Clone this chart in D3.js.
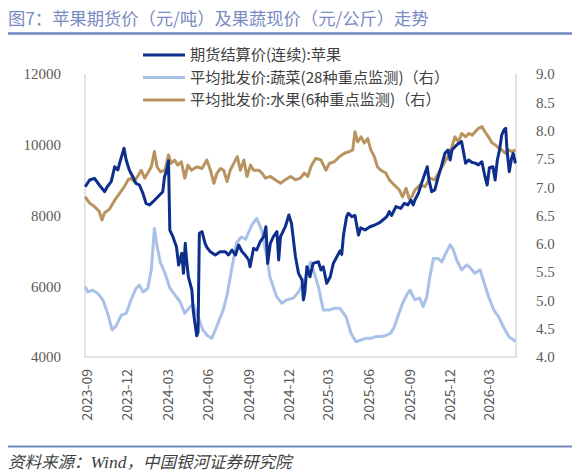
<!DOCTYPE html>
<html><head><meta charset="utf-8">
<script src="https://cdn.jsdelivr.net/npm/d3@7/dist/d3.min.js"></script>
<style>
html,body{margin:0;padding:0;background:#fff;}
svg{display:block;}
</style></head>
<body>
<svg id="chart" width="580" height="476"></svg>
<script>
const titleText = "图7：苹果期货价（元/吨）及果蔬现价（元/公斤）走势";
const seriesNames = ["期货结算价(连续):苹果", "平均批发价:蔬菜(28种重点监测)（右）", "平均批发价:水果(6种重点监测)（右）"];
const leftTicks = [4000, 6000, 8000, 10000, 12000];
const rightTicks = [4.0, 4.5, 5.0, 5.5, 6.0, 6.5, 7.0, 7.5, 8.0, 8.5, 9.0];
const xTickLabels = ["2023-09","2023-12","2024-03","2024-06","2024-09","2024-12","2025-03","2025-06","2025-09","2025-12","2026-03"];
const dateRange = ["2023-08-28", "2026-04-30"];

// 期货结算价(连续):苹果 (元/吨, left axis)
const appleFutures = [
["2023-08-28",8814],["2023-09-07",9003],["2023-09-18",9050],["2023-09-29",8862],["2023-10-11",8673],["2023-10-17",8814],
["2023-10-26",8956],["2023-11-03",9380],["2023-11-10",9286],["2023-11-14",9475],["2023-11-24",9900],["2023-11-29",9569],
["2023-12-06",9286],["2023-12-14",9097],["2023-12-21",8910],["2023-12-29",8862],["2024-01-06",8627],["2024-01-13",8344],
["2024-01-21",8297],["2024-01-29",8390],["2024-02-09",8532],["2024-02-20",8673],["2024-02-24",9097],["2024-02-29",9286],
["2024-03-04",9550],["2024-03-07",7590],["2024-03-14",7400],["2024-03-22",7117],["2024-03-27",6600],["2024-04-03",6931],
["2024-04-07",6365],["2024-04-11",7214],["2024-04-14",6742],["2024-04-18",6270],["2024-04-26",5894],["2024-04-29",5328],
["2024-05-03",4952],["2024-05-07",4600],["2024-05-10",4700],["2024-05-13",7497],["2024-05-19",7543],["2024-05-26",7214],
["2024-05-30",7100],["2024-06-07",6976],["2024-06-18",6883],["2024-06-29",6976],["2024-07-11",6976],["2024-07-18",6883],
["2024-07-26",7025],["2024-08-03",6883],["2024-08-10",7166],["2024-08-18",6976],["2024-08-25",6883],["2024-09-02",6742],
["2024-09-05",6553],["2024-09-13",7072],["2024-09-20",7025],["2024-09-28",7259],["2024-10-06",7400],["2024-10-11",7683],
["2024-10-15",6646],["2024-10-21",7214],["2024-10-28",7400],["2024-11-05",7543],["2024-11-09",6742],["2024-11-13",7400],
["2024-11-24",7683],["2024-12-02",8014],["2024-12-08",7778],["2024-12-17",6834],["2024-12-24",6365],["2025-01-01",6176],
["2025-01-04",5611],["2025-01-07",5800],["2025-01-12",6552],["2025-01-19",6270],["2025-01-26",6646],["2025-02-07",6694],
["2025-02-13",6460],["2025-02-18",6552],["2025-02-26",6083],["2025-03-06",6270],["2025-03-13",6650],["2025-03-21",6834],
["2025-03-28",7000],["2025-04-01",6900],["2025-04-05",7449],["2025-04-12",7966],["2025-04-16",8062],["2025-04-24",7966],
["2025-05-01",8000],["2025-05-09",7449],["2025-05-14",7650],["2025-05-24",7590],["2025-06-04",7683],["2025-06-15",7731],
["2025-06-26",7800],["2025-07-06",7900],["2025-07-12",7966],["2025-07-18",8108],["2025-07-23",8000],["2025-08-02",8250],
["2025-08-13",8200],["2025-08-21",8344],["2025-08-29",8300],["2025-09-05",8438],["2025-09-10",8300],["2025-09-14",8438],
["2025-09-22",8627],["2025-09-29",8910],["2025-10-07",9193],["2025-10-12",9380],["2025-10-16",9003],["2025-10-22",8673],
["2025-10-29",8720],["2025-11-06",9097],["2025-11-13",9380],["2025-11-21",9758],["2025-11-28",9852],["2025-12-03",9569],
["2025-12-07",9852],["2025-12-14",9946],["2025-12-22",10040],["2025-12-29",10087],["2026-01-07",9475],["2026-01-14",9569],
["2026-01-22",9500],["2026-01-29",9480],["2026-02-05",9430],["2026-02-13",9520],["2026-02-20",9097],["2026-02-25",8862],
["2026-03-02",9350],["2026-03-10",9380],["2026-03-15",9003],["2026-03-20",9569],["2026-03-25",9852],["2026-03-30",10275],
["2026-04-04",10417],["2026-04-08",10465],["2026-04-11",9852],["2026-04-16",9239],["2026-04-21",9600],["2026-04-25",9758],
["2026-04-30",9475]
];

// 平均批发价:蔬菜 (元/公斤, right axis)
const vegPrice = [
["2023-08-28",5.24],["2023-09-03",5.15],["2023-09-14",5.18],["2023-09-26",5.12],["2023-10-07",5.01],["2023-10-18",4.77],
["2023-10-28",4.48],["2023-11-06",4.55],["2023-11-18",4.74],["2023-11-29",4.77],["2023-12-10",5.01],["2023-12-21",5.21],
["2023-12-29",5.27],["2024-01-06",5.15],["2024-01-17",5.21],["2024-01-25",5.54],["2024-02-01",6.27],["2024-02-06",6.01],
["2024-02-14",5.68],["2024-02-25",5.48],["2024-03-07",5.22],["2024-03-18",5.10],["2024-03-30",4.98],["2024-04-10",4.77],
["2024-04-22",4.89],["2024-04-29",4.92],["2024-05-10",4.71],["2024-05-21",4.48],["2024-05-31",4.38],["2024-06-10",4.33],
["2024-06-21",4.53],["2024-07-06",4.83],["2024-07-15",5.10],["2024-07-25",5.54],["2024-08-05",6.01],["2024-08-16",6.12],
["2024-08-26",6.08],["2024-09-09",6.33],["2024-09-20",6.45],["2024-10-01",6.25],["2024-10-13",5.77],["2024-10-20",5.42],
["2024-11-04",5.07],["2024-11-16",4.95],["2024-11-27",5.01],["2024-12-12",5.04],["2024-12-24",5.15],["2024-12-30",5.24],
["2025-01-10",5.42],["2025-01-20",5.68],["2025-01-29",5.48],["2025-02-09",5.18],["2025-02-18",4.83],["2025-03-04",4.83],
["2025-03-15",4.86],["2025-03-28",4.86],["2025-04-11",4.71],["2025-04-22",4.42],["2025-05-03",4.27],["2025-05-15",4.30],
["2025-05-25",4.33],["2025-06-06",4.33],["2025-06-17",4.36],["2025-06-29",4.36],["2025-07-10",4.38],["2025-07-21",4.42],
["2025-07-29",4.53],["2025-08-06",4.71],["2025-08-17",4.95],["2025-08-28",5.12],["2025-09-03",5.18],["2025-09-14",5.01],
["2025-09-25",5.04],["2025-10-03",4.89],["2025-10-11",5.07],["2025-10-18",5.42],["2025-10-26",5.74],["2025-11-06",5.74],
["2025-11-14",5.68],["2025-11-21",5.80],["2025-12-03",5.98],["2025-12-10",5.90],["2025-12-18",5.71],["2025-12-29",5.54],
["2026-01-10",5.63],["2026-01-17",5.58],["2026-01-28",5.48],["2026-02-09",5.54],["2026-02-16",5.36],["2026-02-28",5.07],
["2026-03-12",4.83],["2026-03-23",4.71],["2026-04-03",4.53],["2026-04-15",4.36],["2026-04-26",4.30],["2026-04-30",4.27]
];

// 平均批发价:水果 (元/公斤, right axis)
const fruitPrice = [
["2023-08-28",6.83],["2023-09-07",6.72],["2023-09-18",6.66],["2023-09-29",6.57],["2023-10-05",6.42],["2023-10-11",6.55],
["2023-10-22",6.61],["2023-11-03",6.77],["2023-11-14",6.89],["2023-11-25",7.01],["2023-12-03",7.13],["2023-12-10",7.16],
["2023-12-17",7.10],["2023-12-25",7.19],["2024-01-02",7.30],["2024-01-10",7.16],["2024-01-17",7.25],["2024-01-25",7.36],
["2024-02-01",7.63],["2024-02-07",7.36],["2024-02-15",7.27],["2024-02-25",7.30],["2024-03-04",7.57],["2024-03-10",7.42],
["2024-03-18",7.48],["2024-03-25",7.39],["2024-04-02",7.45],["2024-04-10",7.16],["2024-04-17",7.39],["2024-04-25",7.30],
["2024-05-01",7.33],["2024-05-08",7.36],["2024-05-19",7.33],["2024-05-30",7.48],["2024-06-07",7.30],["2024-06-15",7.07],
["2024-06-22",7.25],["2024-06-30",7.33],["2024-07-07",7.30],["2024-07-15",7.10],["2024-07-22",7.30],["2024-07-30",7.42],
["2024-08-07",7.54],["2024-08-14",7.30],["2024-08-22",7.48],["2024-08-29",7.19],["2024-09-06",7.39],["2024-09-13",7.30],
["2024-09-25",7.30],["2024-10-02",7.25],["2024-10-10",7.16],["2024-10-21",7.19],["2024-11-01",7.13],["2024-11-13",7.07],
["2024-11-24",7.13],["2024-12-06",7.19],["2024-12-17",7.13],["2024-12-28",7.16],["2025-01-06",7.25],["2025-01-14",7.19],
["2025-01-21",7.36],["2025-02-01",7.51],["2025-02-13",7.48],["2025-02-24",7.30],["2025-03-04",7.42],["2025-03-15",7.45],
["2025-03-27",7.54],["2025-04-07",7.60],["2025-04-18",7.63],["2025-04-26",7.66],["2025-05-01",7.98],["2025-05-07",7.80],
["2025-05-15",7.89],["2025-05-22",7.78],["2025-05-30",7.86],["2025-06-06",7.66],["2025-06-14",7.54],["2025-06-21",7.36],
["2025-06-29",7.30],["2025-07-10",7.25],["2025-07-18",7.13],["2025-07-29",7.04],["2025-08-10",6.95],["2025-08-17",6.83],
["2025-08-25",6.98],["2025-09-01",6.80],["2025-09-07",6.83],["2025-09-14",6.95],["2025-09-26",7.04],["2025-10-07",7.01],
["2025-10-18",7.16],["2025-10-29",7.13],["2025-11-10",7.30],["2025-11-21",7.45],["2025-11-28",7.54],["2025-12-07",7.72],
["2025-12-14",7.89],["2025-12-22",7.80],["2025-12-29",7.95],["2026-01-07",7.89],["2026-01-14",7.95],["2026-01-22",7.92],
["2026-01-29",7.98],["2026-02-05",8.04],["2026-02-13",8.07],["2026-02-20",7.98],["2026-02-28",7.89],["2026-03-08",7.78],
["2026-03-15",7.75],["2026-03-23",7.69],["2026-03-30",7.66],["2026-04-07",7.60],["2026-04-14",7.66],["2026-04-22",7.63],
["2026-04-30",7.66]
];

const colors = ["#0d2f8b", "#a9c1e8", "#b99461"];
const parse = d3.timeParse("%Y-%m-%d");
const svg = d3.select("#chart");

const plot = {left: 85, right: 516, top: 74, bottom: 357};

const x = d3.scaleTime().domain(dateRange.map(parse)).range([85.2, 515.4]);
const yL = d3.scaleLinear().domain([4000, 12000]).range([plot.bottom, plot.top]);
const yR = d3.scaleLinear().domain([4, 9]).range([plot.bottom, plot.top]);

// title
svg.append("text").attr("x", 8).attr("y", 25)
  .attr("font-family", "'Noto Sans CJK SC', sans-serif").attr("font-size", 17.3)
  .attr("fill", "#7a8bc3").text(titleText);
svg.append("line").attr("x1", 8).attr("x2", 572).attr("y1", 33.5).attr("y2", 33.5)
  .attr("stroke", "#6f86be").attr("stroke-width", 2.5);

// plot frame (left, right, bottom)
const frame = svg.append("g").attr("stroke", "#d9d9d9").attr("stroke-width", 1.5).attr("fill", "none");
frame.append("path").attr("d", `M${plot.left},${plot.top}V${plot.bottom}H${plot.right}V${plot.top}`);

// axes
const tickFont = "'Liberation Serif', 'Times New Roman', serif";
const gL = svg.append("g").attr("transform", `translate(${plot.left - 21},0)`)
  .call(d3.axisLeft(yL).tickValues(leftTicks).tickSize(0).tickFormat(d3.format("d")));
gL.select(".domain").remove();
gL.selectAll("text").attr("font-family", tickFont).attr("font-size", 15).attr("fill", "#5e5a55").attr("dx", 0);

const gR = svg.append("g").attr("transform", `translate(${plot.right + 17},0)`)
  .call(d3.axisRight(yR).tickValues(rightTicks).tickSize(0).tickFormat(d3.format(".1f")));
gR.select(".domain").remove();
gR.selectAll("text").attr("font-family", tickFont).attr("font-size", 15).attr("fill", "#5e5a55").attr("dx", 0);

const xTicks = xTickLabels.map(s => parse(s + "-01"));
const gX = svg.append("g").attr("transform", `translate(0,${plot.bottom})`)
  .call(d3.axisBottom(x).tickValues(xTicks).tickSize(0).tickFormat(d3.timeFormat("%Y-%m")));
gX.select(".domain").remove();
gX.selectAll("text")
  .attr("font-family", "'Noto Sans CJK SC', 'Noto Sans', sans-serif").attr("font-size", 14)
  .attr("fill", "#5e5a55")
  .attr("transform", "rotate(-90)")
  .attr("text-anchor", "end")
  .attr("x", -12).attr("y", 0).attr("dy", "0.35em");

// lines
const lineL = d3.line().x(d => x(parse(d[0]))).y(d => yL(d[1]));
const lineR = d3.line().x(d => x(parse(d[0]))).y(d => yR(d[1]));

svg.append("path").datum(vegPrice).attr("d", lineR).attr("fill", "none")
  .attr("stroke", colors[1]).attr("stroke-width", 3).attr("stroke-linejoin", "round");
svg.append("path").datum(fruitPrice).attr("d", lineR).attr("fill", "none")
  .attr("stroke", colors[2]).attr("stroke-width", 3).attr("stroke-linejoin", "round");
svg.append("path").datum(appleFutures).attr("d", lineL).attr("fill", "none")
  .attr("stroke", colors[0]).attr("stroke-width", 3).attr("stroke-linejoin", "round");

// legend
const legend = svg.append("g");
seriesNames.forEach((name, i) => {
  const yy = 55 + i * 22.5;
  legend.append("line").attr("x1", 143).attr("x2", 185).attr("y1", yy).attr("y2", yy)
    .attr("stroke", colors[i]).attr("stroke-width", 3);
  legend.append("text").attr("x", 190).attr("y", yy).attr("dy", "0.35em")
    .attr("font-family", "'Noto Sans CJK SC', sans-serif").attr("font-size", 15.2)
    .attr("fill", "#404040").text(name);
});

// footer
svg.append("line").attr("x1", 8).attr("x2", 572).attr("y1", 446.5).attr("y2", 446.5)
  .attr("stroke", "#7088bf").attr("stroke-width", 2);
const foot = svg.append("text").attr("x", 8).attr("y", 468)
  .attr("font-size", 16.5).attr("font-style", "italic").attr("fill", "#404040")
  .attr("font-family", "'Noto Sans CJK SC', sans-serif");
foot.append("tspan").text("资料来源：");
foot.append("tspan").attr("font-family", "'Liberation Serif', serif").attr("font-size", 17.5).text("Wind");
foot.append("tspan").text("，中国银河证券研究院");
</script>
</body></html>
